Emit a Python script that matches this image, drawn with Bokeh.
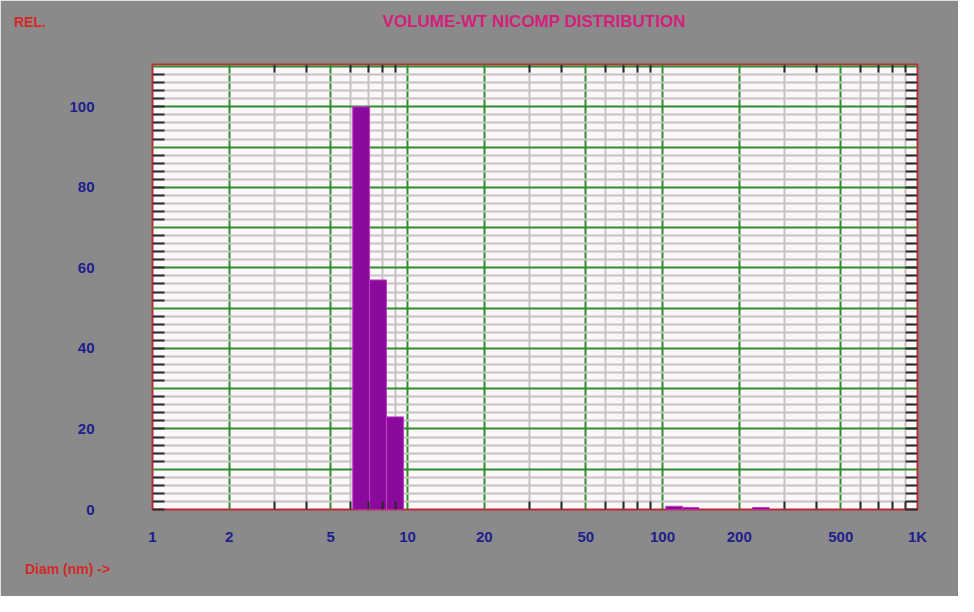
from bokeh.plotting import figure
from bokeh.models import FixedTicker, LinearAxis, LogAxis, Div
from bokeh.layouts import column
from bokeh.embed import file_html
from bokeh.resources import INLINE

# ---- data ----
bin_left = [6.1, 7.1, 8.27, 103, 120, 225]
bin_right = [7.1, 8.27, 9.65, 120, 139, 262]
rel_volume = [100, 57, 23, 0.8, 0.5, 0.5]

x_major = [1, 2, 5, 10, 20, 50, 100, 200, 500, 1000]
x_tick_labels = ["1", "2", "5", "10", "20", "50", "100", "200", "500", "1K"]
x_minor = [3, 4, 6, 7, 8, 9, 30, 40, 60, 70, 80, 90, 300, 400, 600, 700, 800, 900]
y_label_ticks = [0, 20, 40, 60, 80, 100]
y_grid_major = [10, 20, 30, 40, 50, 60, 70, 80, 90, 100, 110]
y_minor = [v for v in range(0, 111, 2) if v % 10 != 0]

title_text = "VOLUME-WT NICOMP DISTRIBUTION"
y_caption = "REL."
x_caption = "Diam (nm) ->"

FONT = "Liberation Sans"
BG = "#8a8a8a"

p = figure(width=958, height=596, x_axis_type="log", x_range=(1, 1000), y_range=(0, 110.5),
           output_backend="svg", toolbar_location=None,
           min_border_left=152, min_border_right=41, min_border_top=64, min_border_bottom=87)
p.border_fill_color = BG
p.background_fill_color = "#fcf7f9"
p.outline_line_color = "#c02838"
p.outline_line_width = 2

xt = FixedTicker(ticks=x_major, minor_ticks=x_minor)
yt_grid = FixedTicker(ticks=y_grid_major, minor_ticks=y_minor)
yt_axis = FixedTicker(ticks=y_label_ticks, minor_ticks=y_minor)

# grids
p.xgrid.ticker = xt
p.ygrid.ticker = yt_grid
for g in (p.xgrid, p.ygrid):
    g.grid_line_color = "#2e8e2e"
    g.grid_line_width = 2
    g.minor_grid_line_color = "#c4c4c4"
    g.minor_grid_line_width = 2

# bars
p.quad(left=bin_left, right=bin_right, bottom=0, top=rel_volume,
       fill_color="#8a0a9c", line_color="#c43cc8", line_width=1)

def style_axis(ax, show_labels=True):
    ax.axis_line_color = None
    ax.major_tick_out = 0
    ax.minor_tick_out = 0
    ax.major_tick_line_color = "#2a2a2a"
    ax.minor_tick_line_color = "#2a2a2a"
    ax.major_tick_line_width = 2
    ax.minor_tick_line_width = 2
    ax.major_label_text_font = FONT
    ax.major_label_text_font_style = "bold"
    ax.major_label_text_font_size = "15px" if show_labels else "0px"
    ax.major_label_text_color = "#1e1e8c" if show_labels else None

# bottom x axis
xa = p.xaxis[0]
xa.ticker = xt
xa.major_label_overrides = {v: s for v, s in zip(x_major, x_tick_labels)}
style_axis(xa)
xa.major_tick_in = 8
xa.minor_tick_in = 8
xa.major_tick_line_color = None
xa.major_label_standoff = 18

# left y axis
ya = p.yaxis[0]
ya.ticker = yt_axis
style_axis(ya)
ya.major_tick_in = 12
ya.minor_tick_in = 12
ya.major_label_standoff = 58

# right and top tick-only axes
ra = LinearAxis(ticker=yt_axis)
style_axis(ra, show_labels=False)
ra.major_tick_in = 12
ra.minor_tick_in = 12
ra.major_label_standoff = 0
p.add_layout(ra, "right")

ta = LogAxis(ticker=xt)
style_axis(ta, show_labels=False)
ta.major_tick_in = 8
ta.minor_tick_in = 8
ta.major_tick_line_color = None
ta.major_label_standoff = 0
p.add_layout(ta, "above")

def caption(text, left, top, width, size, color, align="left"):
    return Div(text=text, width=width, height=20,
               styles={"position": "absolute", "left": f"{left}px", "top": f"{top}px",
                       "z-index": "10", "font-family": FONT, "font-weight": "bold",
                       "font-size": size, "color": color, "line-height": "20px",
                       "margin": "0", "text-align": align, "white-space": "nowrap"})

title_div = caption(title_text, 334, 12, 400, "17px", "#d4207c", align="center")
rel_div = caption(y_caption, 14, 12, 60, "14px", "#d42828")
diam_div = caption(x_caption, 25, 559, 120, "14px", "#d42828")

layout = column(p, title_div, rel_div, diam_div)
open("out.html", "w").write(file_html(layout, INLINE))
